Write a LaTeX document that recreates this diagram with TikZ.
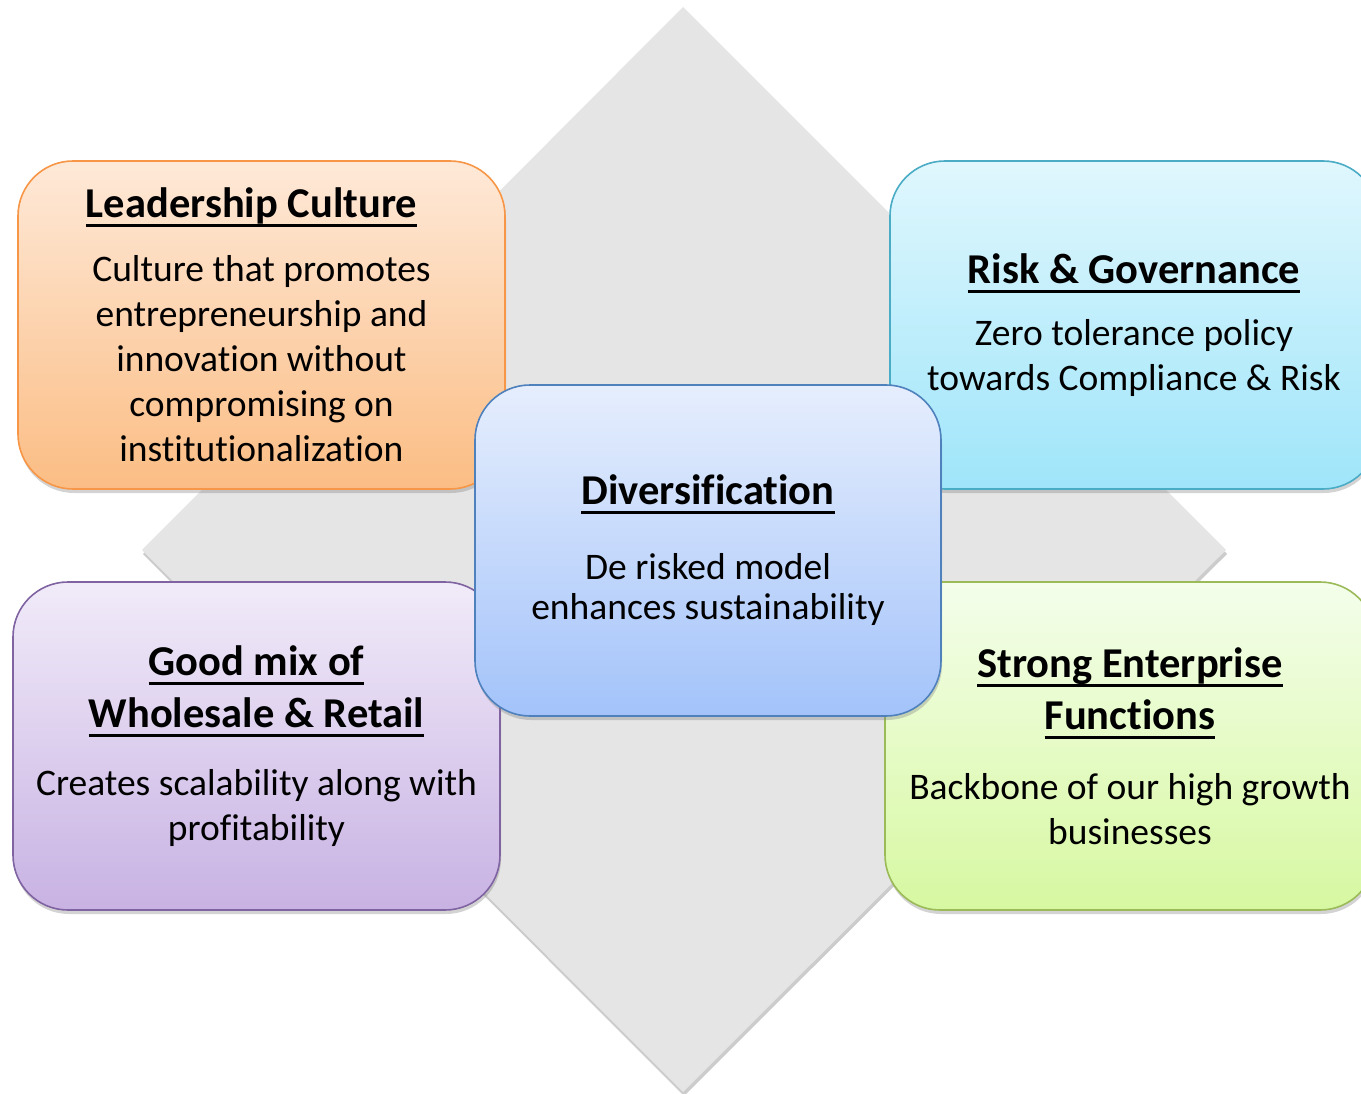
\documentclass[tikz,border=0pt]{standalone}
\usepackage{fontspec}
\setmainfont{Carlito}[Ligatures=NoCommon]
\usetikzlibrary{shadows}

\definecolor{diamondgray}{HTML}{E5E5E5}
\definecolor{orangeline}{HTML}{F79646}
\definecolor{orangetop}{HTML}{FEE9D8}
\definecolor{orangebot}{HTML}{FBBD84}
\definecolor{cyanline}{HTML}{4BACC6}
\definecolor{cyantop}{HTML}{E0F7FD}
\definecolor{cyanbot}{HTML}{9FE5FA}
\definecolor{purpleline}{HTML}{8064A2}
\definecolor{purpletop}{HTML}{F1EBF9}
\definecolor{purplebot}{HTML}{C8B2E3}
\definecolor{greenline}{HTML}{9BBB59}
\definecolor{greentop}{HTML}{F4FEEB}
\definecolor{greenbot}{HTML}{D7F8A1}
\definecolor{blueline}{HTML}{4F81BD}
\definecolor{bluetop}{HTML}{E6EEFD}
\definecolor{bluebot}{HTML}{A3C3FA}

\newcommand\cardhead[1]{{\bfseries\fontsize{42.5}{45}\selectfont\setbox0\hbox{#1}\rlap{\rule[-9.5pt]{\wd0}{3pt}}\box0}}

\tikzset{
  card/.style={rounded corners=55pt, line width=1.6pt, inner sep=0pt, outer sep=0pt,
    minimum height=328pt, align=center, font=\fontsize{37.5}{45}\selectfont,
    drop shadow={shadow xshift=1pt, shadow yshift=-4pt, opacity=0.35}},
  orangecard/.style={card, draw=orangeline, top color=orangetop, bottom color=orangebot},
  cyancard/.style={card, draw=cyanline, top color=cyantop, bottom color=cyanbot},
  purplecard/.style={card, draw=purpleline, top color=purpletop, bottom color=purplebot},
  greencard/.style={card, draw=greenline, top color=greentop, bottom color=greenbot},
  bluecard/.style={card, draw=blueline, top color=bluetop, bottom color=bluebot}
}

\begin{document}
\begin{tikzpicture}[x=1pt, y=-1pt]
\useasboundingbox (0,0) rectangle (1361,1094);
\fill[diamondgray, drop shadow={shadow xshift=1pt, shadow yshift=-4pt, opacity=0.4}]
  (683,7) -- (1226,550) -- (683,1092) -- (142,550) -- cycle;
\node[orangecard, minimum width=487pt] (leader) at (261.5,325)
  {\cardhead{Leadership Culture}\kern20pt\\[19pt]
   Culture that promotes\\ entrepreneurship and\\ innovation without\\
   compromising on\\ institutionalization};
\node[cyancard, minimum width=488pt] (risk) at (1134,325)
  {\cardhead{Risk \& Governance}\\[17pt]
   Zero tolerance policy\\ towards Compliance \& Risk};
\node[purplecard, minimum width=487pt] (mix) at (256.5,746)
  {\cardhead{Good mix of}\\[7pt] \cardhead{Wholesale \& Retail}\\[23pt]
   Creates scalability along with\\ profitability};
\node[greencard, minimum width=490pt] (enterprise) at (1130,746)
  {\cardhead{Strong Enterprise}\\[7pt] \cardhead{Functions}\\[25pt]
   Backbone of our high growth\\ businesses};
\node[bluecard, minimum width=466pt, minimum height=331pt] (divers) at (708,550.5)
  {\cardhead{Diversification}\\[30pt]
   De risked model\\[-5pt] enhances sustainability};
\end{tikzpicture}
\end{document}
